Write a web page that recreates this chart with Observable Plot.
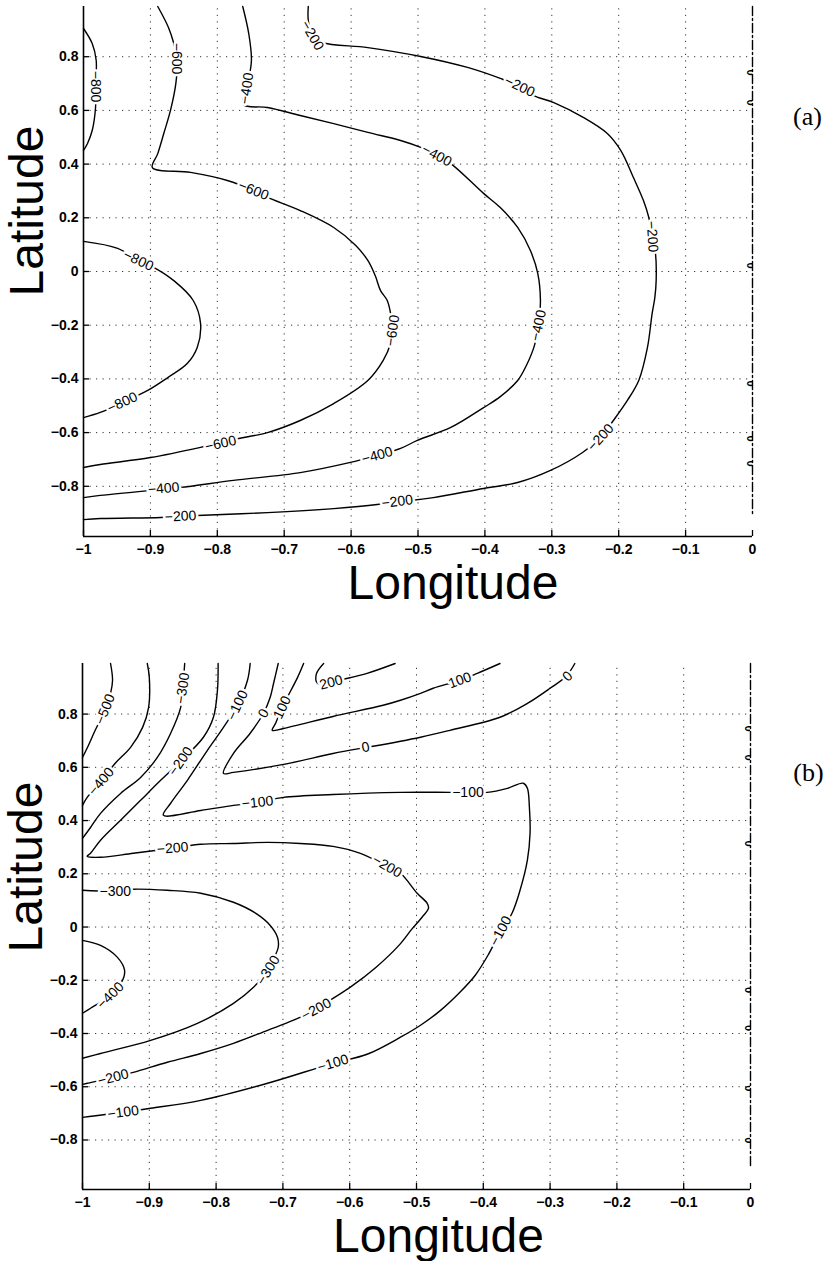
<!DOCTYPE html>
<html><head><meta charset="utf-8">
<script src="https://cdn.jsdelivr.net/npm/d3@7"></script>
<script src="https://cdn.jsdelivr.net/npm/@observablehq/plot@0.6"></script>
<style>
body{margin:0;background:#fff;}
#chart{width:830px;}
#chart svg{display:block;overflow:visible;}
g[aria-label="x-axis tick label"] text, g[aria-label="y-axis tick label"] text{font-weight:bold;}
</style></head><body><div id="chart"></div>
<script>
// ---- ticks ----
const xTicks = [-1, -0.9, -0.8, -0.7, -0.6, -0.5, -0.4, -0.3, -0.2, -0.1, 0];
const yTicks = [-0.8, -0.6, -0.4, -0.2, 0, 0.2, 0.4, 0.6, 0.8];
const xGrid = [-0.9, -0.8, -0.7, -0.6, -0.5, -0.4, -0.3, -0.2, -0.1];

// ---- panel (a) contours: [lon, lat] ----
const a_m800_top = [[-1,0.905],[-0.987,0.849],[-0.981,0.786],[-0.982,0.689],[-0.982,0.611],[-0.987,0.525],[-0.994,0.477],[-1,0.451]];
const a_m600 = [[-0.889,0.987],[-0.873,0.909],[-0.865,0.849],[-0.860,0.790],[-0.862,0.700],[-0.870,0.600],[-0.880,0.514],[-0.889,0.439],[-0.897,0.387],[-0.840,0.369],[-0.785,0.339],[-0.746,0.302],[-0.725,0.276],[-0.676,0.227],[-0.626,0.164],[-0.593,0.097],[-0.575,0.041],[-0.564,-0.015],[-0.556,-0.071],[-0.546,-0.108],[-0.541,-0.156],[-0.538,-0.220],[-0.541,-0.268],[-0.552,-0.331],[-0.575,-0.406],[-0.626,-0.492],[-0.676,-0.555],[-0.725,-0.600],[-0.776,-0.626],[-0.825,-0.655],[-0.900,-0.693],[-0.975,-0.719],[-1,-0.730]];
const a_m400 = [[-0.762,0.987],[-0.753,0.886],[-0.749,0.786],[-0.755,0.693],[-0.761,0.622],[-0.725,0.611],[-0.676,0.581],[-0.626,0.551],[-0.575,0.518],[-0.526,0.488],[-0.496,0.462],[-0.472,0.432],[-0.451,0.402],[-0.402,0.291],[-0.377,0.238],[-0.351,0.164],[-0.332,0.078],[-0.321,-0.007],[-0.317,-0.108],[-0.320,-0.201],[-0.326,-0.276],[-0.338,-0.350],[-0.351,-0.406],[-0.377,-0.466],[-0.402,-0.507],[-0.451,-0.581],[-0.501,-0.629],[-0.526,-0.659],[-0.561,-0.685],[-0.601,-0.711],[-0.676,-0.749],[-0.776,-0.778],[-0.855,-0.804],[-0.880,-0.808],[-0.904,-0.816],[-0.975,-0.834],[-1,-0.842]];
const a_m200 = [[-0.664,0.987],[-0.664,0.935],[-0.658,0.879],[-0.643,0.853],[-0.575,0.834],[-0.496,0.801],[-0.426,0.760],[-0.377,0.719],[-0.348,0.689],[-0.327,0.655],[-0.297,0.629],[-0.253,0.574],[-0.217,0.514],[-0.197,0.451],[-0.178,0.350],[-0.163,0.264],[-0.155,0.201],[-0.150,0.130],[-0.145,0.067],[-0.144,-0.034],[-0.146,-0.097],[-0.150,-0.156],[-0.157,-0.283],[-0.170,-0.406],[-0.187,-0.480],[-0.208,-0.555],[-0.227,-0.618],[-0.254,-0.674],[-0.302,-0.741],[-0.351,-0.786],[-0.402,-0.808],[-0.477,-0.842],[-0.511,-0.853],[-0.531,-0.857],[-0.561,-0.868],[-0.626,-0.883],[-0.725,-0.898],[-0.830,-0.909],[-0.855,-0.912],[-0.885,-0.916],[-0.975,-0.920],[-1,-0.924]];
const a_m800_bot = [[-1,0.112],[-0.949,0.086],[-0.918,0.041],[-0.900,0.022],[-0.865,-0.034],[-0.836,-0.108],[-0.825,-0.194],[-0.830,-0.283],[-0.845,-0.343],[-0.874,-0.395],[-0.904,-0.443],[-0.942,-0.488],[-0.975,-0.525],[-1,-0.544]];
// contour labels [text, lon, lat, angle]
const a_labels = [
  ["−800",-0.982,0.689,90],["−600",-0.861,0.793,90],["−400",-0.756,0.682,-82],["−200",-0.658,0.879,60],
  ["−200",-0.348,0.689,25],["−400",-0.472,0.432,28],["−600",-0.746,0.302,22],["−800",-0.918,0.041,25],
  ["−600",-0.538,-0.220,-82],["−400",-0.320,-0.201,-78],["−200",-0.150,0.130,86],
  ["−800",-0.942,-0.488,-25],["−600",-0.795,-0.641,-13],["−400",-0.561,-0.685,-16],["−400",-0.880,-0.808,-5],
  ["−200",-0.227,-0.618,-47],["−200",-0.531,-0.857,-7],["−200",-0.855,-0.912,-3]
];
const a_zeroLine = [[0,0.987],[0,-0.909]];
const a_zeroLabels = [0.741, 0.629, 0.022, -0.417, -0.622, -0.715];

// ---- panel (b) contours ----
const b_m500 = [[-0.958,0.990],[-0.955,0.927],[-0.958,0.878],[-0.966,0.818],[-0.981,0.739],[-0.991,0.683],[-1,0.637]];
const b_m400_top = [[-0.903,0.990],[-0.900,0.938],[-0.901,0.825],[-0.910,0.750],[-0.928,0.675],[-0.951,0.615],[-0.972,0.547],[-0.993,0.487],[-1,0.457]];
const b_m300_top = [[-0.847,0.990],[-0.850,0.897],[-0.853,0.825],[-0.868,0.728],[-0.888,0.637],[-0.913,0.562],[-0.943,0.502],[-0.973,0.427],[-0.988,0.374],[-1,0.333]];
const b_m200 = [[-0.797,0.990],[-0.798,0.889],[-0.804,0.788],[-0.819,0.713],[-0.853,0.623],[-0.883,0.551],[-0.913,0.476],[-0.943,0.401],[-0.973,0.326],[-0.988,0.277],[-0.993,0.266],[-0.973,0.262],[-0.924,0.277],[-0.865,0.296],[-0.823,0.311],[-0.774,0.314],[-0.723,0.318],[-0.674,0.314],[-0.625,0.303],[-0.584,0.277],[-0.544,0.228],[-0.524,0.202],[-0.499,0.127],[-0.484,0.089],[-0.482,0.071],[-0.492,0.036],[-0.507,-0.008],[-0.526,-0.068],[-0.560,-0.150],[-0.599,-0.226],[-0.625,-0.268],[-0.650,-0.309],[-0.684,-0.350],[-0.723,-0.388],[-0.774,-0.437],[-0.823,-0.475],[-0.873,-0.508],[-0.924,-0.546],[-0.954,-0.565],[-0.993,-0.587],[-1,-0.591]];
const b_m300_bot = [[-1,0.138],[-0.951,0.135],[-0.924,0.142],[-0.873,0.138],[-0.823,0.127],[-0.774,0.093],[-0.741,0.052],[-0.719,0.006],[-0.708,-0.039],[-0.707,-0.076],[-0.714,-0.120],[-0.722,-0.162],[-0.744,-0.226],[-0.774,-0.287],[-0.828,-0.362],[-0.898,-0.426],[-0.973,-0.475],[-1,-0.493]];
const b_m400_bot = [[-1,-0.050],[-0.973,-0.069],[-0.948,-0.113],[-0.937,-0.162],[-0.940,-0.200],[-0.958,-0.257],[-0.988,-0.305],[-1,-0.324]];
const b_m100 = [[-1,-0.715],[-0.939,-0.696],[-0.898,-0.681],[-0.823,-0.651],[-0.723,-0.587],[-0.625,-0.512],[-0.574,-0.478],[-0.524,-0.414],[-0.494,-0.369],[-0.464,-0.313],[-0.435,-0.245],[-0.412,-0.181],[-0.393,-0.106],[-0.375,-0.020],[-0.357,0.052],[-0.345,0.138],[-0.334,0.251],[-0.330,0.352],[-0.331,0.450],[-0.334,0.521],[-0.340,0.540],[-0.364,0.521],[-0.394,0.506],[-0.423,0.506],[-0.450,0.506],[-0.524,0.506],[-0.625,0.498],[-0.699,0.487],[-0.738,0.468],[-0.774,0.457],[-0.823,0.438],[-0.879,0.420],[-0.868,0.465],[-0.843,0.551],[-0.813,0.664],[-0.789,0.750],[-0.768,0.833],[-0.753,0.927],[-0.749,0.990]];
const b_0 = [[-0.707,0.990],[-0.714,0.915],[-0.719,0.863],[-0.729,0.803],[-0.749,0.728],[-0.774,0.652],[-0.789,0.577],[-0.774,0.581],[-0.699,0.611],[-0.625,0.652],[-0.584,0.671],[-0.565,0.679],[-0.494,0.713],[-0.450,0.739],[-0.375,0.788],[-0.334,0.840],[-0.300,0.897],[-0.276,0.942],[-0.263,0.990]];
const b_100 = [[-0.669,0.990],[-0.678,0.938],[-0.701,0.825],[-0.711,0.765],[-0.716,0.739],[-0.699,0.746],[-0.625,0.791],[-0.550,0.833],[-0.524,0.852],[-0.494,0.878],[-0.475,0.897],[-0.435,0.927],[-0.409,0.953],[-0.375,0.990]];
const b_200 = [[-0.639,0.990],[-0.650,0.950],[-0.648,0.915],[-0.628,0.919],[-0.610,0.930],[-0.574,0.953],[-0.532,0.990]];
const b_labels = [
  ["−500",-0.966,0.818,-68],["−400",-0.972,0.547,-50],["−300",-0.850,0.897,-82],["−200",-0.853,0.623,-55],
  ["−100",-0.768,0.833,-65],["0",-0.729,0.803,-60],["100",-0.701,0.825,-65],["200",-0.628,0.919,-15],
  ["0",-0.576,0.675,-12],["100",-0.435,0.927,-20],["0",-0.274,0.942,-45],
  ["−100",-0.423,0.506,0],["−100",-0.738,0.468,-6],["−200",-0.865,0.296,-5],["−200",-0.544,0.228,30],
  ["−300",-0.951,0.135,0],["−300",-0.722,-0.162,-58],["−400",-0.958,-0.257,-45],["−200",-0.650,-0.309,-28],
  ["−200",-0.954,-0.565,-15],["−100",-0.939,-0.696,-8],["−100",-0.625,-0.512,-17],["−100",-0.374,-0.015,-62]
];
const b_zeroLine = [[0,0.990],[0,-0.903]];
const b_zeroLabels = [0.746, 0.637, 0.314, -0.237, -0.380, -0.606, -0.801];

const fmt = d3.format("~g");
function toRows(list){ return list.flatMap((pts, id) => pts.map(([lon, lat]) => ({id, lon, lat}))); }

function panel(o){
  const [yMin, yMax] = o.yDomain;
  return Plot.plot({
    width: 830, height: o.height,
    marginTop: o.mt, marginBottom: o.mb, marginLeft: o.ml, marginRight: o.mr,
    style: {fontFamily: "'Liberation Sans', Arial, Helvetica, sans-serif", background: "white", overflow: "visible", color: "black"},
    x: {domain: [-1, 0]},
    y: {domain: o.yDomain},
    marks: [
      Plot.ruleX(xGrid, {y1: yMin, y2: yMax, stroke: "#333", strokeWidth: 1, strokeDasharray: "1.2,5.3"}),
      Plot.ruleY(yTicks, {x1: -1, x2: 0, stroke: "#333", strokeWidth: 1, strokeDasharray: "1.2,5.3"}),
      Plot.line(toRows(o.contours), {x: "lon", y: "lat", z: "id", curve: "catmull-rom", stroke: "black", strokeWidth: 1.4}),
      Plot.line(o.zeroLine, {x: d => d[0], y: d => d[1], stroke: "black", strokeWidth: 1.4, strokeDasharray: "9,3,2,3"}),
      Plot.text(o.zeroLabels, {x: () => 0, y: d => d, text: () => "0", rotate: 90, fontSize: 11, dx: -2, clip: true, fill: "black", fontWeight: "bold"}),
      Plot.text(o.labels, {x: d => d[1], y: d => d[2], text: d => d[0], rotate: d => d[3], fontSize: 14,
        fill: "black", stroke: "white", strokeWidth: 5, paintOrder: "stroke", textAnchor: "middle", lineAnchor: "middle"}),
      Plot.ruleX([-1], {y1: yMin, y2: yMax, stroke: "black", strokeWidth: 1.6}),
      Plot.ruleY([yMin], {x1: -1, x2: 0, stroke: "black", strokeWidth: 1.6}),
      Plot.ruleX(xTicks, {y1: yMin, y2: yMin, insetTop: -6, stroke: "black", strokeWidth: 1.3}),
      Plot.ruleY(yTicks, {x1: -1, x2: -1, insetRight: -6, stroke: "black", strokeWidth: 1.3}),
      Plot.axisX({ticks: xTicks, tickSize: 0, tickPadding: 8, fontSize: 14, tickFormat: fmt, label: null}),
      Plot.axisY({ticks: yTicks, tickSize: 0, tickPadding: 5, fontSize: 14, tickFormat: fmt, label: null}),
      Plot.text(["Longitude"], {frameAnchor: "bottom", textAnchor: "middle", lineAnchor: "middle", dx: o.lonDx, dy: 47, fontSize: 48, fill: "black"}),
      Plot.text(["Latitude"], {frameAnchor: "left", textAnchor: "middle", lineAnchor: "middle", rotate: -90, dx: -55.4, dy: o.latDy, fontSize: 48, fill: "black"}),
      Plot.text([o.tag], {frameAnchor: "top-right", textAnchor: "middle", lineAnchor: "middle", dx: o.tagDx, dy: o.tagDy, fontSize: 26, fontFamily: "'Liberation Serif', 'DejaVu Serif', serif", fill: "black"})
    ]
  });
}

const chart = document.getElementById("chart");
chart.append(panel({
  contours: [a_m800_top, a_m600, a_m400, a_m200, a_m800_bot],
  labels: a_labels, zeroLine: a_zeroLine, zeroLabels: a_zeroLabels,
  yDomain: [-0.987, 0.987], height: 620, mt: 6, mb: 84, ml: 83, mr: 78,
  lonDx: 35, latDy: -60.5, tag: "(a)", tagDx: 55, tagDy: 110
}));
chart.append(panel({
  contours: [b_m500, b_m400_top, b_m300_top, b_m200, b_m300_bot, b_m400_bot, b_m100, b_0, b_100, b_200],
  labels: b_labels, zeroLine: b_zeroLine, zeroLabels: b_zeroLabels,
  yDomain: [-0.986, 0.99], height: 641, mt: 43, mb: 72, ml: 82, mr: 80,
  lonDx: 22, latDy: -59.5, tag: "(b)", tagDx: 58, tagDy: 109
}));
</script></body></html>
